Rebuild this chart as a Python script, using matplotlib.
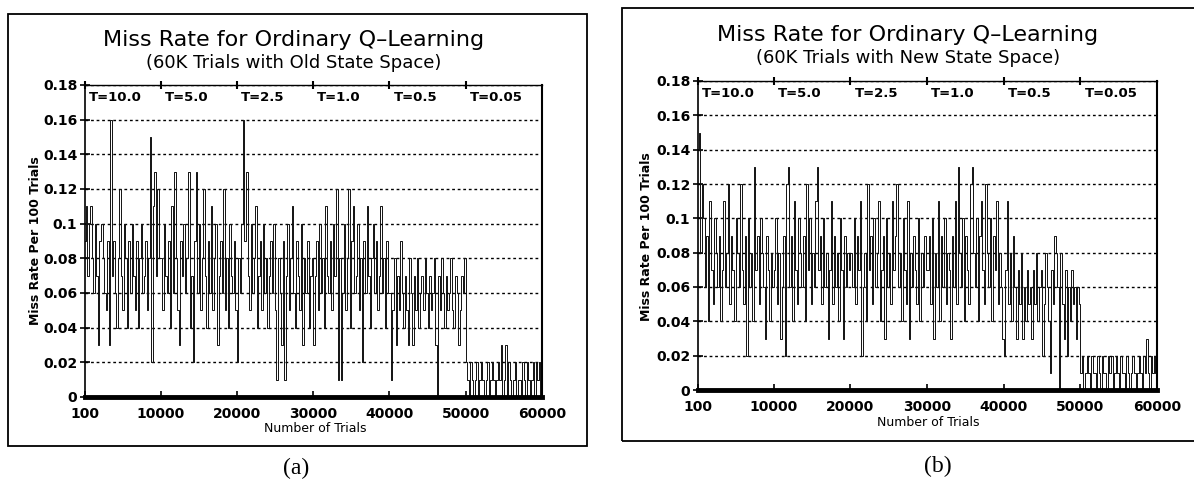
import matplotlib
matplotlib.use('Agg')
import matplotlib.pyplot as plt
import numpy as np
from matplotlib.patches import Rectangle

plt.rcParams['font.family'] = 'DejaVu Sans'

W, H = 1194, 491

# misses per 100 trials, one value every 200 trials, grouped by temperature phase
a_t10 = [9, 11, 7, 10, 11, 8, 6, 10, 7, 3, 9, 10, 8, 6, 5, 9, 3, 16, 7, 9,
         6, 4, 8, 12, 7, 5, 10, 8, 4, 9, 6, 10, 7, 5, 9, 4, 8, 10, 6, 7,
         9, 5, 8, 15, 2, 11, 13, 7, 12, 8]
a_t5 = [8, 5, 10, 7, 6, 9, 4, 11, 6, 13, 8, 5, 3, 9, 7, 10, 6, 8, 13, 4,
        7, 2, 9, 13, 6, 10, 5, 8, 12, 7, 4, 9, 6, 11, 5, 8, 10, 3, 7, 9,
        6, 12, 5, 8, 4, 10, 7, 6, 9, 5]
a_t2 = [2, 8, 6, 10, 16, 9, 13, 7, 5, 10, 6, 8, 11, 4, 7, 9, 5, 10, 6, 8,
        4, 7, 9, 6, 10, 5, 1, 8, 6, 3, 9, 1, 7, 10, 5, 8, 11, 6, 4, 9,
        7, 5, 10, 3, 8, 6, 9, 4, 7, 8]
a_t1 = [3, 7, 9, 5, 10, 6, 8, 4, 11, 7, 6, 9, 5, 10, 7, 12, 1, 8, 1, 6,
        10, 5, 8, 12, 4, 9, 11, 6, 7, 10, 5, 8, 2, 9, 6, 11, 7, 4, 8, 10,
        6, 9, 5, 7, 11, 6, 8, 4, 9, 6]
a_t05 = [6, 1, 5, 8, 3, 7, 5, 9, 6, 4, 7, 5, 3, 8, 6, 3, 7, 5, 8, 4,
         6, 7, 5, 8, 6, 4, 7, 5, 6, 8, 3, 0, 7, 5, 8, 6, 4, 7, 5, 6,
         8, 5, 4, 7, 6, 3, 5, 7, 6, 8]
a_t005 = [2, 1, 0, 2, 1, 0, 1, 2, 0, 1, 2, 1, 0, 1, 2, 0, 1, 2, 1, 0,
          1, 2, 1, 3, 0, 1, 3, 0, 2, 1, 0, 1, 2, 0, 1, 1, 0, 2, 1, 0,
          2, 1, 0, 1, 2, 0, 2, 1, 2, 0]

b_t10 = [14, 15, 8, 12, 10, 6, 9, 4, 11, 7, 5, 10, 8, 6, 9, 4, 7, 11, 6, 8,
         12, 5, 9, 7, 4, 10, 8, 6, 12, 7, 5, 9, 2, 10, 6, 8, 4, 13, 7, 9,
         5, 10, 8, 6, 3, 9, 7, 4, 8, 6]
b_t5 = [7, 10, 5, 8, 3, 6, 9, 2, 12, 13, 6, 9, 4, 11, 7, 5, 10, 8, 6, 9,
        4, 12, 7, 10, 5, 8, 6, 11, 13, 7, 9, 5, 10, 6, 8, 3, 7, 11, 5, 9,
        6, 8, 4, 10, 7, 3, 9, 6, 8, 7]
b_t2 = [8, 6, 10, 5, 9, 7, 11, 2, 6, 8, 4, 12, 7, 9, 5, 10, 6, 8, 11, 4,
        7, 9, 3, 10, 6, 8, 5, 11, 7, 9, 12, 6, 8, 4, 10, 7, 5, 11, 3, 8,
        6, 9, 7, 5, 10, 4, 8, 6, 9, 7]
b_t1 = [7, 9, 5, 10, 3, 8, 6, 11, 4, 9, 6, 10, 5, 8, 7, 3, 9, 6, 11, 5,
        13, 8, 6, 10, 4, 9, 7, 5, 12, 13, 8, 6, 10, 4, 9, 11, 7, 5, 12, 8,
        6, 10, 4, 9, 7, 11, 5, 8, 6, 3]
b_t05 = [2, 7, 11, 5, 8, 4, 9, 6, 3, 7, 5, 8, 3, 6, 4, 7, 5, 6, 3, 7,
         5, 8, 4, 6, 7, 2, 5, 8, 6, 4, 1, 7, 5, 9, 8, 6, 0, 8, 5, 3,
         7, 2, 6, 4, 7, 5, 6, 3, 6, 5]
b_t005 = [1, 2, 0, 1, 2, 1, 0, 2, 1, 1, 0, 2, 1, 0, 2, 1, 1, 0, 2, 1,
          2, 0, 1, 2, 1, 0, 2, 1, 1, 0, 2, 1, 0, 1, 2, 1, 0, 1, 2, 1,
          0, 2, 1, 3, 1, 0, 2, 1, 2, 1]

trials = np.arange(100, 60000, 200)
t_starts = [100, 10000, 20000, 30000, 40000, 50000]
t_labels = ['T=10.0', 'T=5.0', 'T=2.5', 'T=1.0', 'T=0.5', 'T=0.05']
xticks = [100, 10000, 20000, 30000, 40000, 50000, 60000]
yticks = [0, 0.02, 0.04, 0.06, 0.08, 0.1, 0.12, 0.14, 0.16, 0.18]
ytick_labels = ['0', '0.02', '0.04', '0.06', '0.08', '0.1', '0.12', '0.14',
                '0.16', '0.18']

panels = [
    dict(rate=np.concatenate([a_t10, a_t5, a_t2, a_t1, a_t05, a_t005]) / 100.,
         sub='(60K Trials with Old State Space)', tag='(a)',
         ax=(85, 85, 542, 397), box=(8, 14, 587, 446),
         title=(294, 40, 63), ylab=(36, 241), xlab=(315, 428), tagpos=(296, 468)),
    dict(rate=np.concatenate([b_t10, b_t5, b_t2, b_t1, b_t05, b_t005]) / 100.,
         sub='(60K Trials with New State Space)', tag='(b)',
         ax=(698, 81, 1157, 390), box=(622, 8, 1200, 441),
         title=(908, 35, 58), ylab=(647, 237), xlab=(928, 423), tagpos=(938, 466)),
]


def fx(px):
    return px / W


def fy(py):
    return 1 - py / H


fig = plt.figure(figsize=(W / 100, H / 100), dpi=100)

for p in panels:
    x0, y0, x1, y1 = p['box']
    fig.patches.append(Rectangle((fx(x0), fy(y1)), fx(x1 - x0), (y1 - y0) / H,
                                 transform=fig.transFigure, fill=False,
                                 lw=1.3, ec='k'))
    l, t, r, b = p['ax']
    ax = fig.add_axes([fx(l), fy(b), fx(r - l), (b - t) / H])
    ax.plot(trials, p['rate'], color='#111111', lw=0.7, drawstyle='steps-mid')
    ax.set_xlim(100, 60000)
    ax.set_ylim(0, 0.18)
    ax.set_xticks(xticks)
    ax.set_xticklabels([str(v) for v in xticks])
    ax.set_yticks(yticks)
    ax.set_yticklabels(ytick_labels)
    ax.tick_params(axis='both', labelsize=10, width=1.2)
    ax.tick_params(axis='y', direction='inout', length=7, pad=2)
    ax.tick_params(axis='x', direction='in', length=4, pad=7)
    for lab in ax.get_xticklabels() + ax.get_yticklabels():
        lab.set_fontweight('bold')
    ax.yaxis.grid(True, linestyle=(0, (2, 2)), color='k', lw=1)
    ax.spines['bottom'].set_linewidth(3.5)
    ax.spines['left'].set_linewidth(1.2)
    ax.spines['right'].set_linewidth(1.5)
    ax.spines['top'].set_linewidth(1.0)

    ax.plot(t_starts, [0.18] * len(t_starts), ls='none', marker='|', ms=6,
            mew=1.5, color='k', clip_on=False)
    for xs, lab in zip(t_starts, t_labels):
        ax.annotate(lab, (xs, 0.18), xytext=(3, -4), textcoords='offset points',
                    ha='left', va='top', fontsize=9.5, fontweight='bold')

    tx, ty1, ty2 = p['title']
    fig.text(fx(tx), fy(ty1), 'Miss Rate for Ordinary Q\u2013Learning',
             ha='center', va='center', fontsize=16)
    fig.text(fx(tx), fy(ty2), p['sub'], ha='center', va='center', fontsize=13)
    fig.text(fx(p['ylab'][0]), fy(p['ylab'][1]), 'Miss Rate Per 100 Trials',
             rotation=90, ha='center', va='center', fontsize=9, fontweight='bold')
    fig.text(fx(p['xlab'][0]), fy(p['xlab'][1]), 'Number of Trials',
             ha='center', va='center', fontsize=9)
    fig.text(fx(p['tagpos'][0]), fy(p['tagpos'][1]), p['tag'], ha='center',
             va='center', fontsize=17, family='Liberation Serif')

fig.savefig('out.png', dpi=100)
